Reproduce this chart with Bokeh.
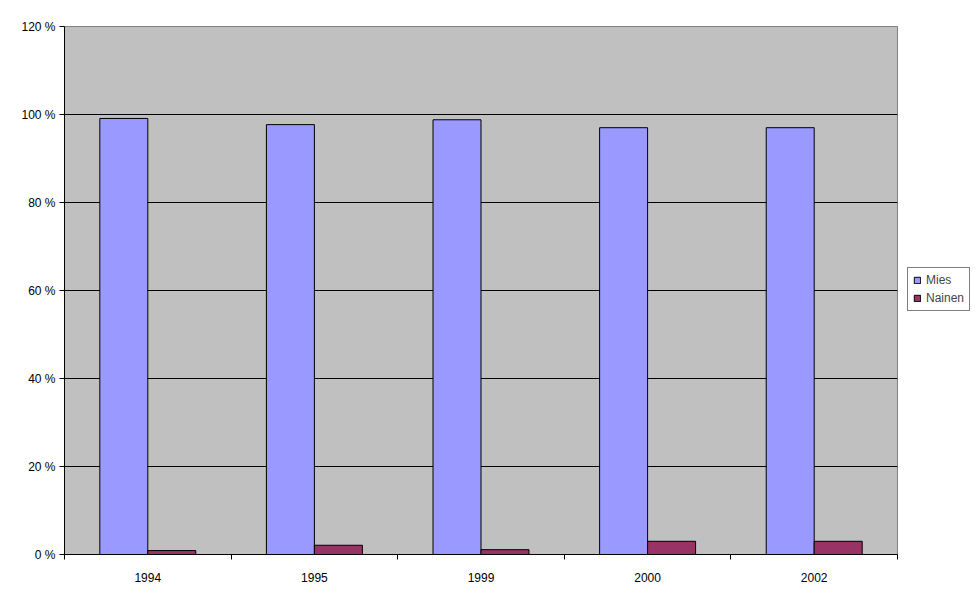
from bokeh.plotting import figure
from bokeh.models import ColumnDataSource, FixedTicker, PrintfTickFormatter, Legend, LegendItem, Range1d
from bokeh.embed import file_html
from bokeh.resources import INLINE

years = ["1994", "1995", "1999", "2000", "2002"]
mies = [99.1, 97.7, 98.8, 97.0, 97.0]
nainen = [0.9, 2.1, 1.1, 3.0, 3.0]
y_ticks = [0, 20, 40, 60, 80, 100, 120]

n = len(years)
centers = [i + 0.5 for i in range(n)]
bw = 0.288
src = ColumnDataSource(dict(
    xm=[c - bw / 2 for c in centers],
    xn=[c + bw / 2 for c in centers],
    mies=mies, nainen=nainen))

p = figure(frame_width=833, frame_height=528, output_backend="svg", toolbar_location=None,
           x_range=Range1d(0, n), y_range=Range1d(0, 120),
           min_border_left=64, min_border_right=0, min_border_top=26, min_border_bottom=38)
p.background_fill_color = "#C0C0C0"
p.border_fill_color = "white"
p.outline_line_color = "#808080"
p.outline_line_width = 1

r1 = p.vbar(x="xm", top="mies", width=bw, bottom=0, source=src,
            fill_color="#9999FF", line_color="black", line_width=1)
r2 = p.vbar(x="xn", top="nainen", width=bw, bottom=0, source=src,
            fill_color="#993366", line_color="black", line_width=1)

font = "Liberation Sans"
# x axis
p.xaxis.ticker = FixedTicker(ticks=centers, minor_ticks=list(range(n + 1)))
p.xaxis.major_label_overrides = {c: y for c, y in zip(centers, years)}
p.xaxis.major_tick_line_color = None
p.xaxis.minor_tick_in = 0
p.xaxis.minor_tick_out = 5
p.xaxis.minor_tick_line_color = "black"
p.xaxis.axis_line_color = "black"
p.xaxis.major_label_standoff = 12
# y axis
p.yaxis.ticker = FixedTicker(ticks=y_ticks)
p.yaxis.formatter = PrintfTickFormatter(format="%d %%")
p.yaxis.major_tick_in = 0
p.yaxis.major_tick_out = 5
p.yaxis.minor_tick_line_color = None
p.yaxis.axis_line_color = "black"
p.yaxis.major_label_standoff = 4
for ax in (p.xaxis, p.yaxis):
    ax.major_label_text_font = font
    ax.major_label_text_font_size = "12px"
    ax.major_label_text_color = "black"

p.xgrid.grid_line_color = None
p.ygrid.ticker = FixedTicker(ticks=y_ticks[1:-1])
p.ygrid.grid_line_color = "black"
p.ygrid.grid_line_width = 1

legend = Legend(items=[LegendItem(label="Mies", renderers=[r1]),
                       LegendItem(label="Nainen", renderers=[r2])],
                location=(10, 243), orientation="vertical",
                border_line_color="black", border_line_width=1,
                background_fill_color="white", background_fill_alpha=1,
                glyph_width=8, glyph_height=8, label_standoff=5,
                padding=5, spacing=4, margin=0,
                label_text_font=font, label_text_font_size="12px",
                label_height=14)
p.add_layout(legend, "right")

open("out.html", "w").write(file_html(p, INLINE))
